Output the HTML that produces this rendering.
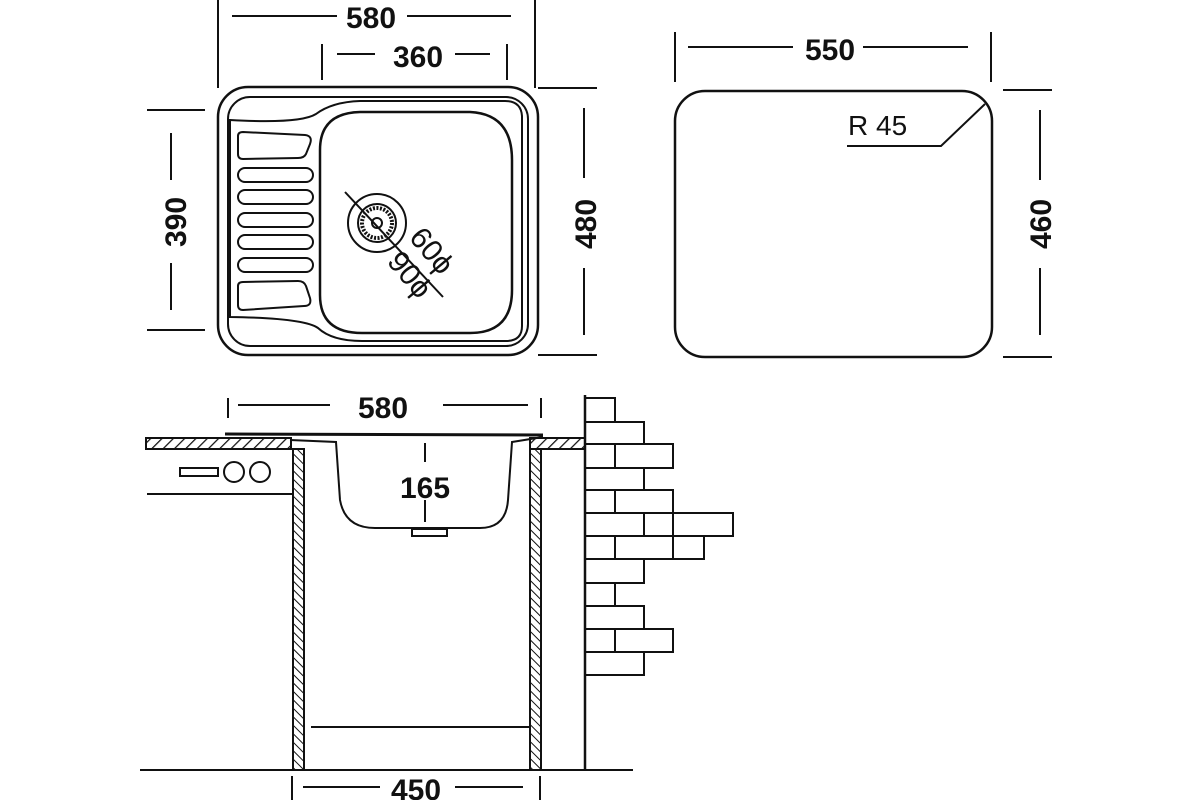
<!DOCTYPE html>
<html><head><meta charset="utf-8"><style>html,body{margin:0;padding:0;background:#fff}svg{display:block}</style></head>
<body>
<svg width="1200" height="800" viewBox="0 0 1200 800" xmlns="http://www.w3.org/2000/svg" font-family="Liberation Sans, sans-serif">
<defs>
<pattern id="h1" patternUnits="userSpaceOnUse" width="8" height="8" patternTransform="rotate(45)"><rect width="8" height="8" fill="#fff"/><line x1="0" y1="0" x2="0" y2="8" stroke="#111" stroke-width="2.5"/></pattern>
<pattern id="h2" patternUnits="userSpaceOnUse" width="6" height="6" patternTransform="rotate(-45)"><rect width="6" height="6" fill="#fff"/><line x1="0" y1="0" x2="0" y2="6" stroke="#111" stroke-width="2"/></pattern>
</defs>
<g stroke="#111" fill="none" stroke-width="2">
<line x1="218" y1="0" x2="218" y2="88"/><line x1="535" y1="0" x2="535" y2="88"/>
<line x1="232" y1="16" x2="337" y2="16"/><line x1="407" y1="16" x2="511" y2="16"/>
<line x1="322" y1="44" x2="322" y2="80"/><line x1="507" y1="44" x2="507" y2="80"/>
<line x1="337" y1="54" x2="375" y2="54"/><line x1="455" y1="54" x2="490" y2="54"/>
<line x1="147" y1="110" x2="205" y2="110"/><line x1="147" y1="330" x2="205" y2="330"/>
<line x1="171" y1="133" x2="171" y2="180"/><line x1="171" y1="263" x2="171" y2="310"/>
<line x1="538" y1="88" x2="597" y2="88"/><line x1="538" y1="355" x2="597" y2="355"/>
<line x1="584" y1="108" x2="584" y2="178"/><line x1="584" y1="268" x2="584" y2="335"/>
<rect x="218" y="87" width="320" height="268" rx="30" stroke-width="2.5"/>
<rect x="228" y="97" width="300" height="249" rx="22"/>
<path d="M230 120 Q300 124 316 114 Q332 102 360 101 L505 101 Q521 101 522 116 L522 326 Q522 341 506 341 L362 341 Q332 341 318 328 Q304 318 230 317 Z"/>
<path d="M320 150 Q320 113 360 112 L470 112 Q512 114 512 160 L512 290 Q512 333 470 333 L362 333 Q320 333 320 295 Z" stroke-width="2.5"/>
<path d="M238 136 Q238 132 243 132 L305 135 Q313 136 310 144 L306 154 Q304 158 298 158 L243 159 Q238 159 238 154 Z"/>
<rect x="238" y="168" width="75" height="14" rx="7"/>
<rect x="238" y="190" width="75" height="14" rx="7"/>
<rect x="238" y="213" width="75" height="14" rx="7"/>
<rect x="238" y="235" width="75" height="14" rx="7"/>
<rect x="238" y="258" width="75" height="14" rx="7"/>
<path d="M238 286 Q238 282 243 282 L298 281 Q304 281 306 286 L310 298 Q312 306 304 306 L243 310 Q238 310 238 305 Z"/>
<circle cx="377" cy="223" r="29"/><circle cx="377" cy="223" r="19"/><circle cx="377" cy="223" r="15" stroke-dasharray="2 1.5" stroke-width="4"/><circle cx="377" cy="223" r="5"/>
<line x1="345" y1="192" x2="443" y2="297"/>
<line x1="675" y1="32" x2="675" y2="82"/><line x1="991" y1="32" x2="991" y2="82"/>
<line x1="688" y1="47" x2="793" y2="47"/><line x1="863" y1="47" x2="968" y2="47"/>
<rect x="675" y="91" width="317" height="266" rx="30" stroke-width="2.5"/>
<line x1="1003" y1="90" x2="1052" y2="90"/><line x1="1003" y1="357" x2="1052" y2="357"/>
<line x1="1040" y1="110" x2="1040" y2="180"/><line x1="1040" y1="268" x2="1040" y2="335"/>
<polyline points="847,146 941,146 985,104"/>
<line x1="228" y1="398" x2="228" y2="418"/><line x1="541" y1="398" x2="541" y2="418"/>
<line x1="238" y1="405" x2="330" y2="405"/><line x1="443" y1="405" x2="528" y2="405"/>
<rect x="146" y="438" width="145" height="11" fill="url(#h1)"/>
<rect x="530" y="438" width="55" height="11" fill="url(#h1)"/>
<rect x="293" y="449" width="11" height="321" fill="url(#h2)"/>
<rect x="530" y="449" width="11" height="321" fill="url(#h2)"/>
<path d="M225 434 L543 435" stroke-width="3"/>
<path d="M290 440 L336 442 L340 500 Q345 528 375 528 L480 528 Q506 528 508 500 L512 442 L543 437"/>
<rect x="412" y="529" width="35" height="7"/>
<line x1="425" y1="443" x2="425" y2="462"/><line x1="425" y1="500" x2="425" y2="522"/>
<line x1="147" y1="494" x2="293" y2="494"/>
<rect x="180" y="468" width="38" height="8"/>
<circle cx="234" cy="472" r="10"/><circle cx="260" cy="472" r="10"/>
<line x1="311" y1="727" x2="530" y2="727"/>
<line x1="140" y1="770" x2="633" y2="770"/>
<line x1="292" y1="776" x2="292" y2="800"/><line x1="540" y1="776" x2="540" y2="800"/>
<line x1="303" y1="787" x2="380" y2="787"/><line x1="455" y1="787" x2="523" y2="787"/>
<line x1="585" y1="395" x2="585" y2="770" stroke-width="2.5"/>
<g stroke-width="2">
<rect x="585" y="398" width="30" height="24"/>
<rect x="585" y="422" width="59" height="22"/>
<rect x="585" y="444" width="30" height="24"/><rect x="615" y="444" width="58" height="24"/>
<rect x="585" y="468" width="59" height="22"/>
<rect x="585" y="490" width="30" height="23"/><rect x="615" y="490" width="58" height="23"/>
<rect x="585" y="513" width="59" height="23"/><rect x="644" y="513" width="29" height="23"/><rect x="673" y="513" width="60" height="23"/>
<rect x="585" y="536" width="30" height="23"/><rect x="615" y="536" width="58" height="23"/><rect x="673" y="536" width="31" height="23"/>
<rect x="585" y="559" width="59" height="24"/>
<rect x="585" y="583" width="30" height="23"/>
<rect x="585" y="606" width="59" height="23"/>
<rect x="585" y="629" width="30" height="23"/><rect x="615" y="629" width="58" height="23"/>
<rect x="585" y="652" width="59" height="23"/>
</g>
</g>
<g fill="#111" font-weight="bold" font-size="30" text-anchor="middle">
<text x="371" y="28">580</text>
<text x="418" y="67">360</text>
<text x="830" y="60">550</text>
<text x="383" y="418">580</text>
<text x="425" y="498">165</text>
<text x="416" y="800">450</text>
<text transform="translate(186,222) rotate(-90)">390</text>
<text transform="translate(596,224) rotate(-90)">480</text>
<text transform="translate(1051,224) rotate(-90)">460</text>
</g>
<text x="848" y="135" font-size="28" fill="#111">R 45</text>
<g fill="#111" font-size="30">
<text transform="translate(408,238) rotate(50)">60ϕ</text>
<text transform="translate(386,262) rotate(50)">90ϕ</text>
</g>
</svg>
</body></html>
